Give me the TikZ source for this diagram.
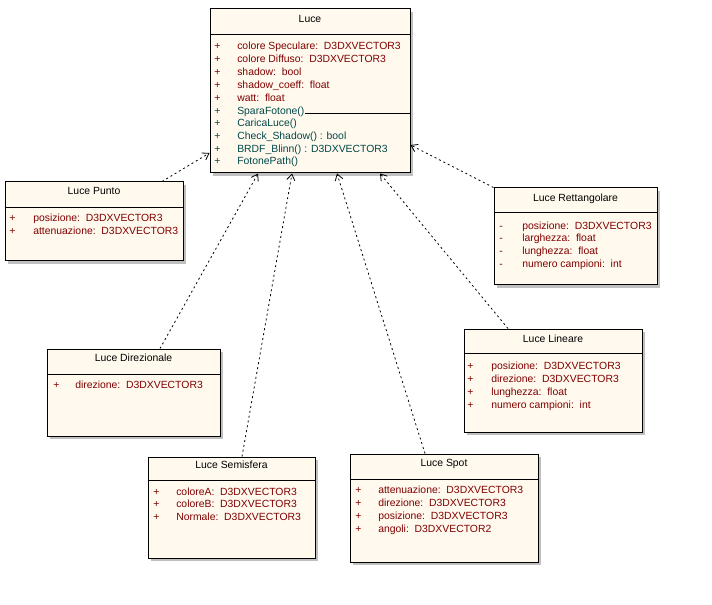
\documentclass[tikz,border=0pt]{standalone}
\usepackage{fontspec}
\setmainfont{Liberation Sans}
\usetikzlibrary{arrows.meta,calc,shadows,fit}
\definecolor{boxfill}{HTML}{FFF9EE}
\definecolor{attrc}{HTML}{800000}
\definecolor{methc}{HTML}{004848}
\definecolor{shadec}{HTML}{C0C0C0}
\begin{document}
\begin{tikzpicture}[x=0.75pt,y=-0.75pt,
  cls/.style={draw=black, line width=0.75pt, fill=boxfill, rectangle, inner sep=0pt,
    drop shadow={shadow xshift=2.6pt, shadow yshift=-2.6pt, fill=shadec, opacity=1}},
  txt/.style={anchor=mid west, inner sep=0pt, font=\fontsize{7.8}{9}\selectfont},
  attrtxt/.style={txt, text=attrc},
  methtxt/.style={txt, text=methc},
  ttl/.style={anchor=mid, inner sep=0pt, font=\fontsize{7.8}{9}\selectfont},
  sep/.style={line width=0.75pt},
  dep/.style={line width=0.6pt, dash pattern=on 1.5pt off 2.2pt, -{Straight Barb[length=4.5pt,width=6pt]}}
]
\useasboundingbox[fill=white] (0,0) rectangle (712,605);

% ---------- Luce ----------
\node[cls, fit={(210,9) (410,173)}] (luce) {};
\node[ttl] (lucet) at (310,19) {Luce};
\draw[sep] (luce.west |- 0,35) -- (luce.east |- 0,35);
\foreach \y/\t [count=\i] in {45.5/colore Speculare:\ \ D3DXVECTOR3, 58.5/colore Diffuso:\ \ D3DXVECTOR3, 71.5/shadow:\ \ bool, 84.5/shadow\_coeff:\ \ float, 97.5/watt:\ \ float}{
  \node[attrtxt] (lp\i) at (214,\y) {+};
  \node[attrtxt] (la\i) at (237,\y) {\t};
}
\foreach \y/\t [count=\i] in {111/SparaFotone(), 123/CaricaLuce(), 135.5/Check\_Shadow() : bool, 148.5/BRDF\_Blinn() : D3DXVECTOR3, 160.5/FotonePath()}{
  \node[methtxt] (mp\i) at (214,\y) {+};
  \node[methtxt] (lm\i) at (237,\y) {\t};
}
\draw[sep] ([yshift=-1.5pt]lm1.east) -- ([yshift=-1.5pt]lm1.east -| luce.east);

% ---------- Luce Punto ----------
\node[cls, fit={(5,182) (183,261)}] (punto) {};
\node[ttl] (puntot) at (94,191) {Luce Punto};
\draw[sep] (punto.west |- 0,208) -- (punto.east |- 0,208);
\node[attrtxt] (pp1) at (9,218) {+};
\node[attrtxt] (pa1) at (33,218) {posizione:\ \ D3DXVECTOR3};
\node[attrtxt] (pp2) at (9,230.5) {+};
\node[attrtxt] (pa2) at (33,230.5) {attenuazione:\ \ D3DXVECTOR3};

% ---------- Luce Rettangolare ----------
\node[cls, fit={(494,188) (657,285)}] (rett) {};
\node[ttl] (rettt) at (575.5,198) {Luce Rettangolare};
\draw[sep] (rett.west |- 0,213) -- (rett.east |- 0,213);
\foreach \y/\t [count=\i] in {225.5/posizione:\ \ D3DXVECTOR3, 238/larghezza:\ \ float, 251/lunghezza:\ \ float, 264/numero campioni:\ \ int}{
  \node[attrtxt] (rp\i) at (499,\y) {-};
  \node[attrtxt] (ra\i) at (522,\y) {\t};
}

% ---------- Luce Direzionale ----------
\node[cls, fit={(47,349) (220,436)}] (dir) {};
\node[ttl] (dirt) at (133.5,358) {Luce Direzionale};
\draw[sep] (dir.west |- 0,374) -- (dir.east |- 0,374);
\node[attrtxt] (dp1) at (53,385) {+};
\node[attrtxt] (da1) at (75,385) {direzione:\ \ D3DXVECTOR3};

% ---------- Luce Lineare ----------
\node[cls, fit={(464,329) (642,432)}] (lin) {};
\node[ttl] (lint) at (553,339) {Luce Lineare};
\draw[sep] (lin.west |- 0,353) -- (lin.east |- 0,353);
\foreach \y/\t [count=\i] in {366/posizione:\ \ D3DXVECTOR3, 378.5/direzione:\ \ D3DXVECTOR3, 392/lunghezza:\ \ float, 405/numero campioni:\ \ int}{
  \node[attrtxt] (np\i) at (467,\y) {+};
  \node[attrtxt] (na\i) at (491,\y) {\t};
}

% ---------- Luce Semisfera ----------
\node[cls, fit={(148,457) (315,558)}] (semi) {};
\node[ttl] (semit) at (231.5,465) {Luce Semisfera};
\draw[sep] (semi.west |- 0,480) -- (semi.east |- 0,480);
\foreach \y/\t [count=\i] in {492/coloreA:\ \ D3DXVECTOR3, 504/coloreB:\ \ D3DXVECTOR3, 517/Normale:\ \ D3DXVECTOR3}{
  \node[attrtxt] (sp\i) at (153,\y) {+};
  \node[attrtxt] (sa\i) at (176,\y) {\t};
}

% ---------- Luce Spot ----------
\node[cls, fit={(350,454) (538,562)}] (spot) {};
\node[ttl] (spott) at (444,463) {Luce Spot};
\draw[sep] (spot.west |- 0,479) -- (spot.east |- 0,479);
\foreach \y/\t [count=\i] in {490/attenuazione:\ \ D3DXVECTOR3, 502.5/direzione:\ \ D3DXVECTOR3, 515.5/posizione:\ \ D3DXVECTOR3, 528.5/angoli:\ \ D3DXVECTOR2}{
  \node[attrtxt] (op\i) at (355,\y) {+};
  \node[attrtxt] (oa\i) at (378,\y) {\t};
}

% ---------- connectors ----------
\draw[dep] (162,0 |- punto.north) -- (luce.west |- 0,153);
\draw[dep] (160,0 |- dir.north) -- (258,0 |- luce.south);
\draw[dep] (242,0 |- semi.north) -- (292,0 |- luce.south);
\draw[dep] (425,0 |- spot.north) -- (337,0 |- luce.south);
\draw[dep] (508,0 |- lin.north) -- (380,0 |- luce.south);
\draw[dep] (rett.north west) -- (luce.east |- 0,145);
\end{tikzpicture}
\end{document}
